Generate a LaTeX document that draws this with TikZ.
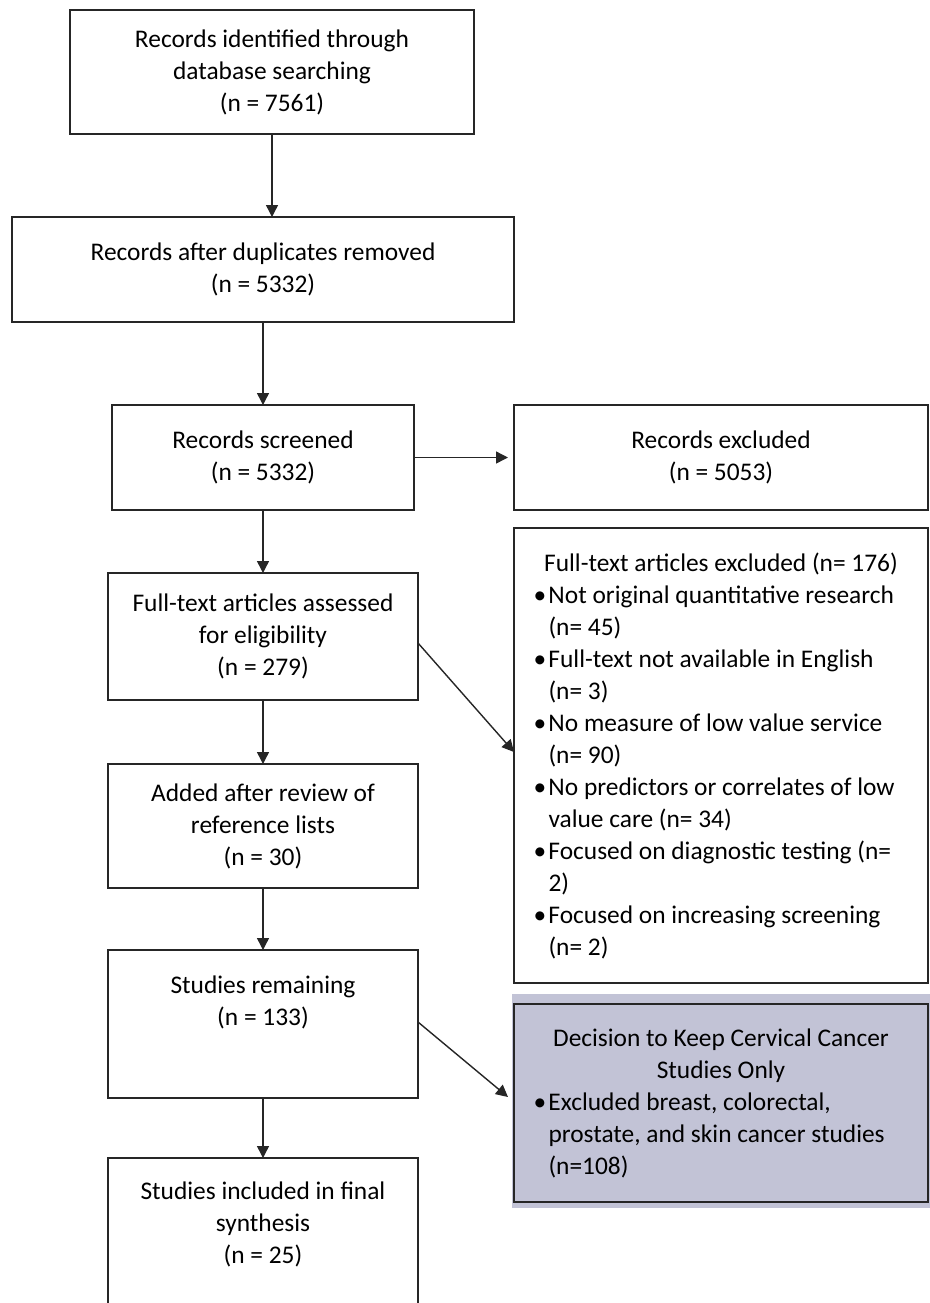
\documentclass[tikz,border=0pt]{standalone}
\usepackage{fontspec}
\setmainfont{Carlito}
\usetikzlibrary{positioning,arrows.meta,backgrounds}
\definecolor{edge}{RGB}{38,38,38}
\definecolor{decfill}{RGB}{194,195,214}
\tikzstyle{block} = [rectangle, draw=edge, line width=1pt, align=flush center, inner sep=0pt, outer sep=0pt]
\tikzstyle{listblock} = [rectangle, draw=edge, line width=1pt, align=flush left, outer sep=0pt,
    text width=187.5pt, inner xsep=9.75pt, inner ysep=0pt, minimum width=207pt]
\tikzstyle{line} = [draw=edge, line width=0.7pt, -{Triangle[length=6pt,width=6pt]}]
\newcommand{\bul}[1]{\par\hangindent=7.5pt\hangafter=1\noindent\makebox[7.5pt][l]{\textbullet}#1}

\begin{document}
\begin{tikzpicture}[x=0.5pt, y=-0.5pt, auto, font=\fontsize{12.7}{16}\selectfont]
    \useasboundingbox (0,0) rectangle (930,1303);
    \clip (0,0) rectangle (930,1303);
    \node [block, minimum width=202pt, minimum height=62pt] (rec) at (272,72)
        {Records identified through\\database searching\\(n = 7561)};
    \node [block, minimum width=251pt, minimum height=52.5pt, below=41.5pt of rec, xshift=-4.5pt] (dup)
        {Records after duplicates removed\\(n = 5332)};
    \node [block, minimum width=151pt, minimum height=52.5pt, below=41.5pt of dup] (scr)
        {Records screened\\(n = 5332)};
    \node [block, minimum width=207pt, minimum height=52.5pt, right=50pt of scr] (excl)
        {Records excluded\\(n = 5053)};
    \node [block, minimum width=155pt, minimum height=63.5pt, below=31.5pt of scr] (full)
        {Full-text articles assessed\\for eligibility\\(n = 279)};
    \node [listblock, minimum height=227.5pt, below=9pt of excl] (ftex)
        {{\centering Full-text articles excluded (n= 176)\par}
         \bul{Not original quantitative research\newline(n= 45)}
         \bul{Full-text not available in English\newline(n= 3)}
         \bul{No measure of low value service\newline(n= 90)}
         \bul{No predictors or correlates of low\newline value care (n= 34)}
         \bul{Focused on diagnostic testing (n=\newline 2)}
         \bul{Focused on increasing screening\newline(n= 2)}\par};
    \node [block, minimum width=155pt, minimum height=62pt, below=32pt of full] (add)
        {Added after review of\\reference lists\\(n = 30)};
    \node [block, minimum width=155pt, inner ysep=12pt, minimum height=74pt, below=31pt of add] (rem)
        {Studies remaining\\(n = 133)\rule[-23pt]{0pt}{23pt}};
    \node [listblock, fill=decfill, minimum height=99pt, below=10.5pt of ftex] (dec)
        {{\centering Decision to Keep Cervical Cancer\\Studies Only\par}
         \bul{Excluded breast, colorectal,\newline prostate, and skin cancer studies\newline (n=108)}\par};
    \node [block, minimum width=155pt, inner ysep=12pt, below=30pt of rem] (fin)
        {Studies included in final\\synthesis\\(n = 25)\rule[-50pt]{0pt}{50pt}};

    \begin{scope}[on background layer]
        \fill [decfill] ([shift={(-1pt,5pt)}]dec.north west) rectangle ([shift={(1pt,-3pt)}]dec.south east);
    \end{scope}

    \path [line] (rec.south) -- (rec.south |- dup.north);
    \path [line] (dup) -- (scr);
    \path [line, shorten >=3pt] (scr) -- (excl);
    \path [line] (scr) -- (full);
    \path [line] ([yshift=-3.25pt]full.east) -- ([yshift=1.75pt]ftex.west);
    \path [line] (full) -- (add);
    \path [line] (add) -- (rem);
    \path [line] ([yshift=1pt]rem.east) -- ([shift={(-3pt,3pt)}]dec.west);
    \path [line] (rem) -- (fin);
\end{tikzpicture}
\end{document}
